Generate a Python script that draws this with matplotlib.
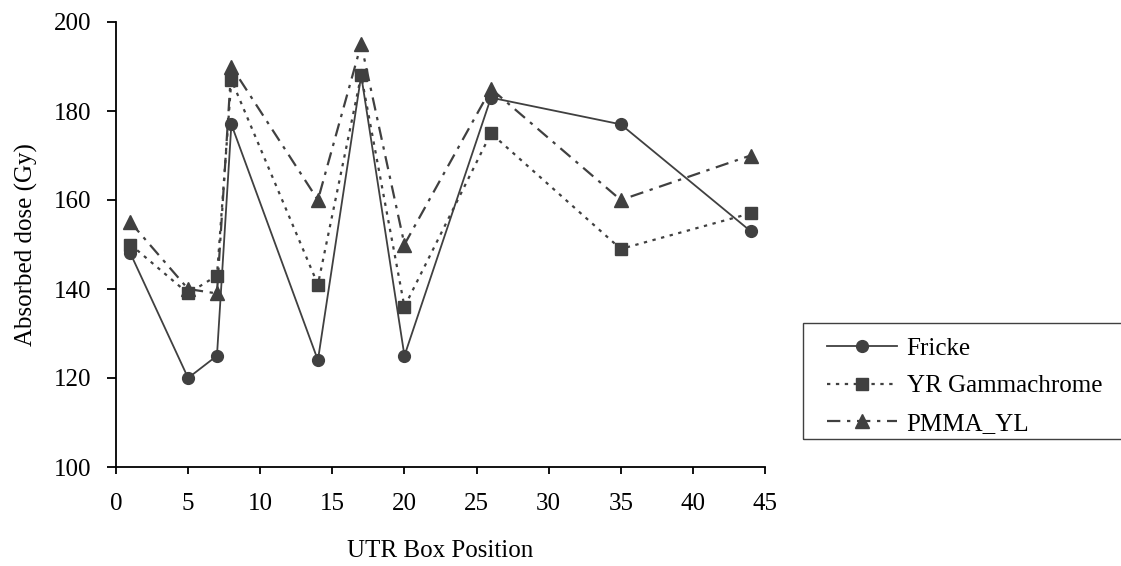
import numpy as np
import matplotlib.pyplot as plt
from matplotlib.patches import Rectangle

plt.rcParams['font.family'] = ['Liberation Serif', 'DejaVu Serif']

# Posiciones de las cajas
posicion = [1, 5, 7, 8, 14, 17, 20, 26, 35, 44]

# Dosis absorbida (Gy) para cada dosímetro
fricke = [148, 120, 125, 177, 124, 188, 125, 183, 177, 153]
yr_gamma = [150, 139, 143, 187, 141, 188, 136, 175, 149, 157]
pmma_yl = [155, 140, 139, 190, 160, 195, 150, 185, 160, 170]

color = '#404040'
W, H = 1121, 566

fig = plt.figure(figsize=(W / 100, H / 100), dpi=100)
ax = fig.add_axes([116/W, 99/H, 649/W, 445/H])

ax.plot(posicion, fricke, color=color, lw=1.3, ls='-', marker='o', ms=8.5, label='Fricke')
ax.plot(posicion, yr_gamma, color=color, lw=1.6, ls=(0, (1.5, 2.5)), marker='s', ms=8.5, label='YR Gammachrome')
ax.plot(posicion, pmma_yl, color=color, lw=1.6, ls=(0, (6, 3, 1.5, 3)), marker='^', ms=9.5, label='PMMA_YL')

ax.set_xlim(0, 45)
ax.set_ylim(100, 200)
ax.set_xticks(np.arange(0, 46, 5))
ax.set_yticks(np.arange(100, 201, 20))
ax.spines['top'].set_visible(False)
ax.spines['right'].set_visible(False)
for s in ['left', 'bottom']:
    ax.spines[s].set_linewidth(1.3)
ax.tick_params(axis='both', labelsize=18, width=1.3, direction='out')
ax.tick_params(axis='x', length=5, pad=14)
ax.tick_params(axis='y', length=6.5, pad=11)

ax.set_xlabel('UTR Box Position', fontsize=18, labelpad=18)
ax.set_ylabel('Absorbed dose (Gy)', fontsize=18, labelpad=12)

# Leyenda sin marco + recuadro aparte (cortado por el borde derecho)
leg = fig.legend(loc='upper left', bbox_to_anchor=(814/W, 1 - 325/H),
                 fontsize=18, frameon=False, handlelength=2.8,
                 handletextpad=0.4, borderpad=0.5, labelspacing=0.6,
                 borderaxespad=0)
fig.patches.append(Rectangle((803/W, 1 - 439/H), 330/W, 116/H,
                             transform=fig.transFigure, fill=False,
                             edgecolor=color, lw=1.0))

plt.savefig('out.png', dpi=100)
